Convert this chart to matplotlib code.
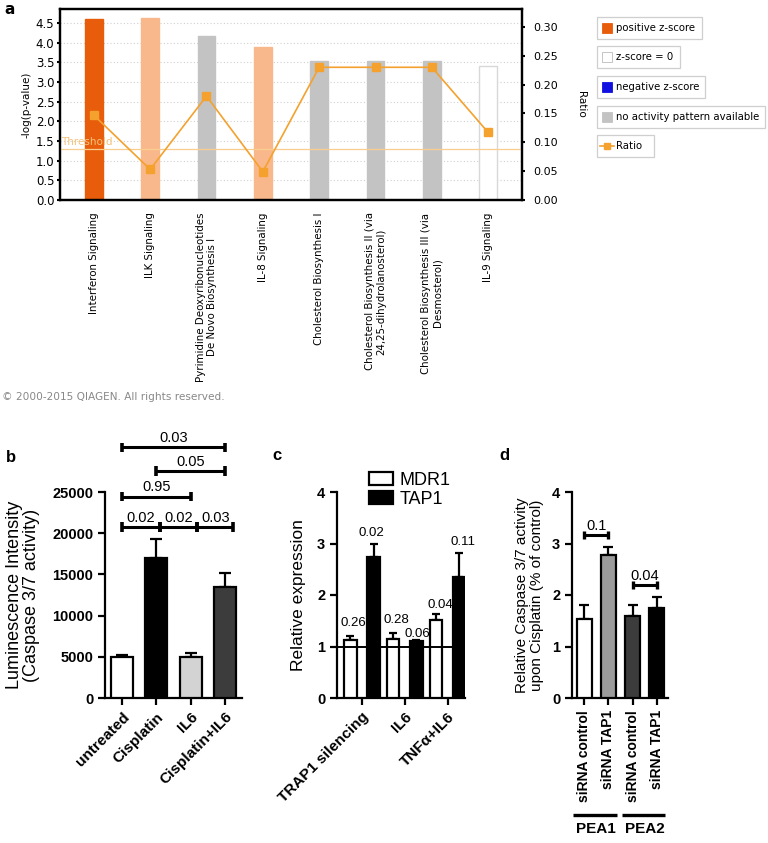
import matplotlib
matplotlib.use("Agg")
import matplotlib.pyplot as plt
from matplotlib.patches import Rectangle
from matplotlib.lines import Line2D
import numpy as np

# ---------------- data ----------------
# panel a
a_categories = ["Interferon Signaling", "ILK Signaling",
                "Pyrimidine Deoxyribonucleotides\nDe Novo Biosynthesis I",
                "IL-8 Signaling", "Cholesterol Biosynthesis I",
                "Cholesterol Biosynthesis II (via\n24,25-dihydrolanosterol)",
                "Cholesterol Biosynthesis III (via\nDesmosterol)",
                "IL-9 Signaling"]
a_logp = [4.60, 4.62, 4.17, 3.89, 3.54, 3.54, 3.54, 3.42]
a_ratio = [0.147, 0.053, 0.180, 0.049, 0.230, 0.230, 0.230, 0.117]
a_zscore = ["pos", "pos_light", "none", "pos_light", "none", "none", "none", "zero"]
a_threshold = 1.3
a_left_ticks = [0.0, 0.5, 1.0, 1.5, 2.0, 2.5, 3.0, 3.5, 4.0, 4.5]
a_right_ticks = [0.00, 0.05, 0.10, 0.15, 0.20, 0.25, 0.30]
a_legend = ["positive z-score", "z-score = 0", "negative z-score",
            "no activity pattern available", "Ratio"]

# panel b
b_categories = ["untreated", "Cisplatin", "IL6", "Cisplatin+IL6"]
b_values = [5000, 17000, 5000, 13450]
b_errors = [250, 2350, 450, 1750]
b_ticks = [0, 5000, 10000, 15000, 20000, 25000]
# brackets: (x_start, x_end, y, label)
b_brackets = [(0, 1.1, 20750, "0.02"), (1.1, 2.2, 20750, "0.02"),
              (2.2, 3.25, 20750, "0.03"), (0, 2, 24400, "0.95"),
              (1, 3, 27550, "0.05"), (0, 3, 30450, "0.03")]

# panel c
c_groups = ["TRAP1 silencing", "IL6", "TNF\u03b1+IL6"]
c_mdr1 = [1.13, 1.15, 1.52]
c_mdr1_err = [0.07, 0.11, 0.11]
c_tap1 = [2.74, 1.10, 2.35]
c_tap1_err = [0.26, 0.02, 0.47]
c_mdr1_p = ["0.26", "0.28", "0.04"]
c_tap1_p = ["0.02", "0.06", "0.11"]
c_ticks = [0, 1, 2, 3, 4]

# panel d
d_categories = ["siRNA control", "siRNA TAP1", "siRNA control", "siRNA TAP1"]
d_values = [1.53, 2.77, 1.59, 1.74]
d_errors = [0.27, 0.17, 0.21, 0.23]
d_groups = ["PEA1", "PEA2"]
d_brackets = [(0, 1, 3.17, "0.1"), (2, 3, 2.20, "0.04")]
d_ticks = [0, 1, 2, 3, 4]

# ---------------- figure ----------------
W, H = 768, 843
fig = plt.figure(figsize=(W / 100, H / 100), dpi=100)


def fx(px):
    return px / W


def fy(py):
    return 1 - py / H


# ---------------- panel a ----------------
colmap = {"pos": "#E85D0C", "pos_light": "#F8B88B", "none": "#C3C3C3",
          "zero": "white", "neg": "#1010E0"}
ratio_col = "#F4A12E"

axa = fig.add_axes([fx(60), fy(200), fx(522) - fx(60), fy(9) - fy(200)])
xa = np.arange(len(a_categories))
for i, (v, z) in enumerate(zip(a_logp, a_zscore)):
    axa.bar(xa[i], v, width=0.31, color=colmap[z],
            edgecolor="#D8D8D8" if z == "zero" else colmap[z], linewidth=1.0, zorder=2)
axa.set_xlim(-0.6, 7.6)
axa.set_ylim(0, 4.86)
axa.set_yticks(a_left_ticks)
axa.set_yticklabels([f"{t:.1f}" for t in a_left_ticks], fontsize=8.5)
axa.yaxis.grid(True, linestyle=(0, (1, 2)), color="#D0D0D0", linewidth=0.8, zorder=0)
axa.set_axisbelow(True)
axa.axhline(a_threshold, color="#F9CD8E", linewidth=0.9, zorder=3)
axa.text(0.003, a_threshold + 0.04, "Threshold", color="#F6C27A", fontsize=7.5,
         transform=axa.get_yaxis_transform(), va="bottom", ha="left", zorder=4)
axa.set_xticks(xa)
axa.set_xticklabels(a_categories, rotation=90, fontsize=7.4, va="top", ha="center",
                    multialignment="center")
axa.tick_params(axis="x", length=0, pad=9)
axa.tick_params(axis="y", length=2, width=1.5, pad=2)
axa.set_ylabel("-log(p-value)", fontsize=7.5, labelpad=3)
for s in axa.spines.values():
    s.set_linewidth(1.6)

axr = axa.twinx()
axr.plot(xa, a_ratio, color=ratio_col, marker="s", markersize=5.5, linewidth=1.2,
         markeredgecolor=ratio_col, zorder=5)
axr.set_ylim(0, 0.331)
axr.set_yticks(a_right_ticks)
axr.set_yticklabels([f"{t:.2f}" for t in a_right_ticks], fontsize=8)
axr.tick_params(axis="y", length=2, width=1.5, pad=6)
axr.set_ylabel("Ratio", fontsize=7.5, rotation=270, labelpad=20)
for s in axr.spines.values():
    s.set_linewidth(1.6)

# legend boxes for panel a
leg_y = [28, 57, 87, 117, 146]
leg_right = [702, 680, 705, 765, 654]
leg_colors = [colmap["pos"], "white", colmap["neg"], colmap["none"], None]
for lab, yc, xr, c in zip(a_legend, leg_y, leg_right, leg_colors):
    fig.patches.append(Rectangle((fx(597), fy(yc + 11)), fx(xr) - fx(597), fy(yc - 11) - fy(yc + 11),
                                 transform=fig.transFigure, facecolor="white",
                                 edgecolor="#CFCFCF", linewidth=0.9))
    if c is not None:
        fig.patches.append(Rectangle((fx(602), fy(yc + 5)), fx(10), fy(yc - 5) - fy(yc + 5),
                                     transform=fig.transFigure, facecolor=c,
                                     edgecolor="#BBBBBB" if c == "white" else c, linewidth=0.6))
    else:
        fig.lines.append(Line2D([fx(600), fx(614)], [fy(yc), fy(yc)], transform=fig.transFigure,
                                color=ratio_col, linewidth=1.2, marker=None))
        fig.lines.append(Line2D([fx(607)], [fy(yc)], transform=fig.transFigure,
                                color=ratio_col, marker="s", markersize=5))
    fig.text(fx(616), fy(yc), lab, fontsize=7.3, va="center", ha="left")

fig.text(fx(2), fy(397), "\u00a9 2000-2015 QIAGEN. All rights reserved.", fontsize=7.6,
         color="#888888", va="center", ha="left")
fig.text(fx(4), fy(9), "a", fontsize=11, fontweight="bold", va="center", ha="left")

# ---------------- common style for b-d ----------------
arial = "Liberation Sans"


def style_ax(ax):
    for s in ["top", "right"]:
        ax.spines[s].set_visible(False)
    for s in ["left", "bottom"]:
        ax.spines[s].set_linewidth(1.6)
    ax.tick_params(axis="both", direction="out", length=5, width=1.6)
    for lab in ax.get_yticklabels():
        lab.set_fontfamily(arial)
        lab.set_fontweight("bold")
        lab.set_fontsize(10.5)


bottom = fy(698)
height = fy(492) - fy(698)

# ---------------- panel b ----------------
axb = fig.add_axes([fx(105), bottom, fx(242) - fx(105), height])
xb = np.arange(len(b_categories))
b_colors = ["white", "black", "#D3D3D3", "#3C3C3C"]
axb.bar(xb, b_values, width=0.64, color=b_colors, edgecolor="black", linewidth=1.6, zorder=3)
axb.errorbar(xb, b_values, yerr=[np.zeros(len(b_errors)), b_errors], fmt="none",
             ecolor="black", elinewidth=1.6, capsize=4, capthick=1.6, zorder=2)
axb.set_xlim(-0.5, 3.5)
axb.set_ylim(0, 25000)
axb.set_yticks(b_ticks)
axb.set_xticks(xb)
axb.set_xticklabels(b_categories, rotation=45, ha="right", rotation_mode="anchor",
                    fontfamily=arial, fontweight="bold", fontsize=11)
style_ax(axb)
axb.set_ylabel("Luminescence Intensity\n(Caspase 3/7 activity)", fontfamily=arial,
               fontsize=13, labelpad=9, linespacing=1.0)
for x0, x1, y, lab in b_brackets:
    axb.plot([x0, x1], [y, y], color="black", linewidth=2.2, clip_on=False,
             solid_capstyle="butt")
    for xx in (x0, x1):
        axb.plot([xx, xx], [y - 550, y + 550], color="black", linewidth=2.6,
                 clip_on=False, solid_capstyle="butt")
    axb.text((x0 + x1) / 2, y + 300, lab, ha="center", va="bottom", fontfamily=arial,
             fontsize=10.5, clip_on=False)
fig.text(fx(6), fy(458), "b", fontsize=12, fontweight="bold", fontfamily=arial,
         va="center", ha="left")

# ---------------- panel c ----------------
axc = fig.add_axes([fx(337), bottom, fx(465) - fx(337), height])
xc = np.arange(len(c_groups))
off = 0.27
wd = 0.29
axc.bar(xc - off, c_mdr1, width=wd, color="white", edgecolor="black", linewidth=1.6,
        zorder=3, label="MDR1")
axc.bar(xc + off, c_tap1, width=wd, color="black", edgecolor="black", linewidth=1.6,
        zorder=3, label="TAP1")
axc.errorbar(xc - off, c_mdr1, yerr=[np.zeros(3), c_mdr1_err], fmt="none", ecolor="black",
             elinewidth=1.6, capsize=3, capthick=1.6, zorder=2)
axc.errorbar(xc + off, c_tap1, yerr=[np.zeros(3), c_tap1_err], fmt="none", ecolor="black",
             elinewidth=1.6, capsize=3, capthick=1.6, zorder=2)
axc.axhline(1, color="black", linewidth=1.4, zorder=4)
axc.set_xlim(-0.58, 2.4)
axc.set_ylim(0, 4)
axc.set_yticks(c_ticks)
axc.set_xticks(xc)
axc.set_xticklabels(c_groups, rotation=45, ha="right", rotation_mode="anchor",
                    fontfamily=arial, fontweight="bold", fontsize=11)
style_ax(axc)
axc.set_ylabel("Relative expression", fontfamily=arial, fontsize=12.5, labelpad=8)
mdr_lab_pos = [(-0.21, 1.46), (0.81, 1.51), (1.82, 1.81)]
tap_lab_pos = [(0.23, 3.20), (1.29, 1.25), (2.35, 3.03)]
for (x, y), lab in zip(mdr_lab_pos, c_mdr1_p):
    axc.text(x, y, lab, ha="center", va="center", fontfamily=arial, fontsize=9.5, zorder=5)
for (x, y), lab in zip(tap_lab_pos, c_tap1_p):
    axc.text(x, y, lab, ha="center", va="center", fontfamily=arial, fontsize=9.5, zorder=5)
leg = axc.legend(loc="lower left", bbox_to_anchor=(0.18, 0.88), frameon=False,
                 prop={"family": arial, "size": 13}, handlelength=1.3, handleheight=0.8,
                 borderpad=0, labelspacing=0.1, handletextpad=0.4)
fig.text(fx(272), fy(455), "c", fontsize=12, fontweight="bold", fontfamily=arial,
         va="center", ha="left")

# ---------------- panel d ----------------
axd = fig.add_axes([fx(572), bottom, fx(668) - fx(572), height])
xd = np.arange(len(d_categories))
d_colors = ["white", "#9B9B9B", "#3C3C3C", "black"]
axd.bar(xd, d_values, width=0.62, color=d_colors, edgecolor="black", linewidth=1.6, zorder=3)
axd.errorbar(xd, d_values, yerr=[np.zeros(4), d_errors], fmt="none", ecolor="black",
             elinewidth=1.6, capsize=3.5, capthick=1.6, zorder=2)
axd.set_xlim(-0.5, 3.46)
axd.set_ylim(0, 4)
axd.set_yticks(d_ticks)
axd.set_xticks(xd)
axd.set_xticklabels(d_categories, rotation=90, ha="center", va="top",
                    fontfamily=arial, fontweight="bold", fontsize=10)
style_ax(axd)
axd.set_ylabel("Relative Caspase 3/7 activity\nupon Cisplatin (% of control)",
               fontfamily=arial, fontsize=11, labelpad=6, linespacing=1.05)
for x0, x1, y, lab in d_brackets:
    axd.plot([x0, x1], [y, y], color="black", linewidth=2.2, solid_capstyle="butt", zorder=5)
    for xx in (x0, x1):
        axd.plot([xx, xx], [y - 0.08, y + 0.08], color="black", linewidth=2.4,
                 solid_capstyle="butt", zorder=5)
    axd.text((x0 + x1) / 2, y + 0.03, lab, ha="center", va="bottom", fontfamily=arial,
             fontsize=10.5, zorder=5)
tr = axd.get_xaxis_transform()
for gi, g in enumerate(d_groups):
    x0, x1 = 2 * gi - 0.45, 2 * gi + 1.35
    axd.plot([x0, x1], [-0.568, -0.568], transform=tr, color="black", linewidth=2.4,
             clip_on=False, solid_capstyle="butt")
    axd.text(2 * gi + 0.5, -0.635, g, transform=tr, ha="center", va="center",
             fontfamily=arial, fontweight="bold", fontsize=11)
fig.text(fx(499), fy(455), "d", fontsize=12, fontweight="bold", fontfamily=arial,
         va="center", ha="left")

fig.savefig("out.png", dpi=100)
